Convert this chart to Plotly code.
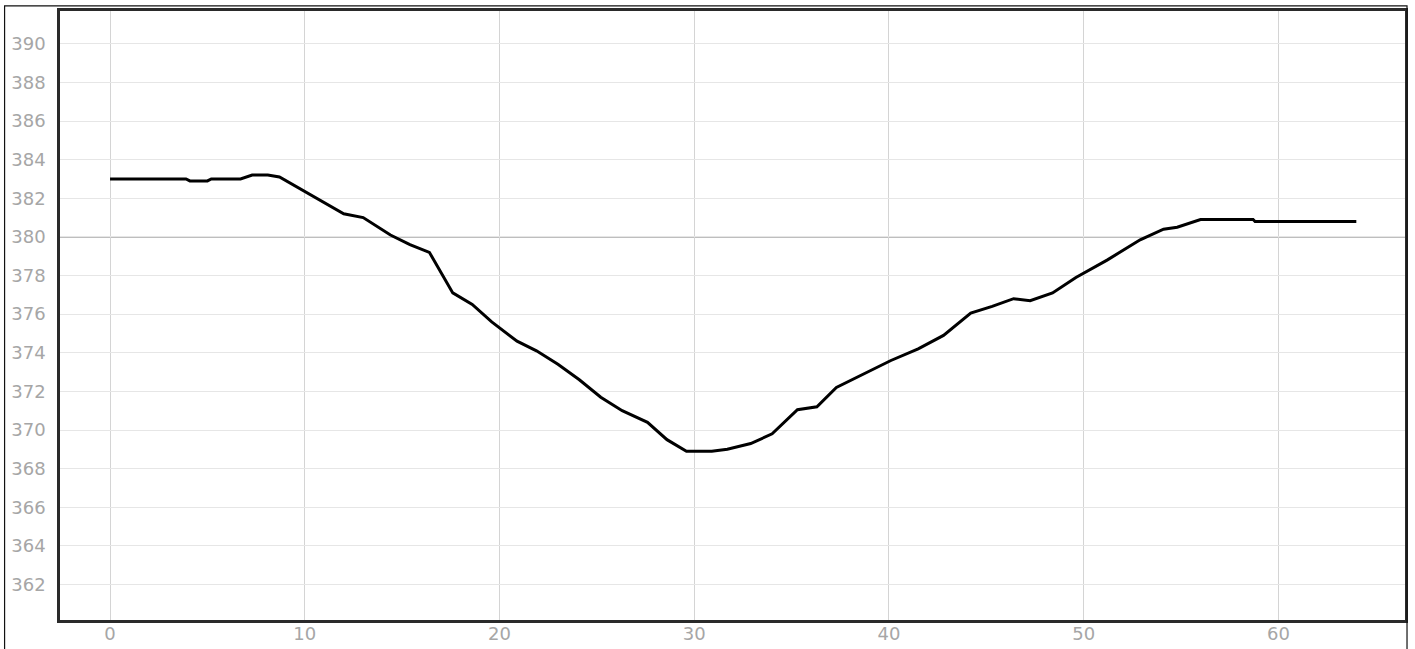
import plotly.graph_objects as go

# Data
distance = [0, 3.9, 4.1, 5.0, 5.2, 6.7, 7.3, 8.1, 8.7, 9.9, 11.0, 12.0, 13.0, 14.4,
            15.4, 16.4, 17.6, 18.6, 19.6, 20.9, 21.9, 23.0, 24.1, 25.2, 26.3, 27.6,
            28.6, 29.6, 30.9, 31.7, 32.9, 34.0, 35.3, 36.3, 37.3, 38.5, 40.1, 41.5,
            42.8, 44.2, 45.3, 46.4, 47.25, 48.4, 49.6, 51.2, 52.9, 54.1, 54.8, 56.0,
            58.7, 58.8, 64.0]
elevation = [383.0, 383.0, 382.9, 382.9, 383.0, 383.0, 383.2, 383.2, 383.1, 382.4,
             381.8, 381.2, 381.0, 380.1, 379.6, 379.2, 377.1, 376.5, 375.6, 374.6,
             374.1, 373.4, 372.6, 371.7, 371.0, 370.4, 369.5, 368.9, 368.9, 369.0,
             369.3, 369.8, 371.05, 371.2, 372.2, 372.8, 373.6, 374.2, 374.9, 376.05,
             376.4, 376.8, 376.7, 377.1, 377.9, 378.8, 379.85, 380.4, 380.5, 380.9,
             380.9, 380.8, 380.8]
x_ticks = [0, 10, 20, 30, 40, 50, 60]
y_ticks = [362, 364, 366, 368, 370, 372, 374, 376, 378, 380, 382, 384, 386, 388, 390]
ref_level = 380

fig = go.Figure()
fig.add_trace(go.Scatter(x=distance, y=elevation, mode="lines",
                         line=dict(color="black", width=3), showlegend=False,
                         hoverinfo="x+y"))

font = dict(family="DejaVu Sans", size=18, color="#a6a6a6")

fig.update_layout(
    width=1415, height=649,
    margin=dict(l=60, r=10, t=11, b=29),
    paper_bgcolor="white", plot_bgcolor="white",
    xaxis=dict(range=[-2.57, 66.5], tickvals=x_ticks, showgrid=True,
               gridcolor="#d4d4d4", gridwidth=1, zeroline=False,
               ticks="", ticklabelstandoff=-4,
               tickfont=font, automargin=False,
               showline=True, mirror=True, linecolor="#2a2a2a", linewidth=2.5),
    yaxis=dict(range=[360.16, 391.7], tickvals=y_ticks, showgrid=True,
               gridcolor="#e6e6e6", gridwidth=1, zeroline=False,
               ticks="outside", ticklen=8, tickcolor="rgba(0,0,0,0)",
               tickfont=font, automargin=False,
               showline=True, mirror=True, linecolor="#2a2a2a", linewidth=2.5),
    shapes=[
        dict(type="line", xref="paper", yref="y", x0=0, x1=1,
             y0=ref_level, y1=ref_level,
             line=dict(color="#a8a8a8", width=1.5), layer="below"),
        dict(type="rect", xref="paper", yref="paper", x0=-0.0412, x1=1.0015,
             y0=-0.2, y1=1.0085, line=dict(color="#111111", width=1.2),
             layer="above"),
    ],
)

fig.write_html(
    "out.html",
    config={"displayModeBar": False},
    post_script="document.body.style.margin='0';document.body.style.overflow='hidden';",
)
